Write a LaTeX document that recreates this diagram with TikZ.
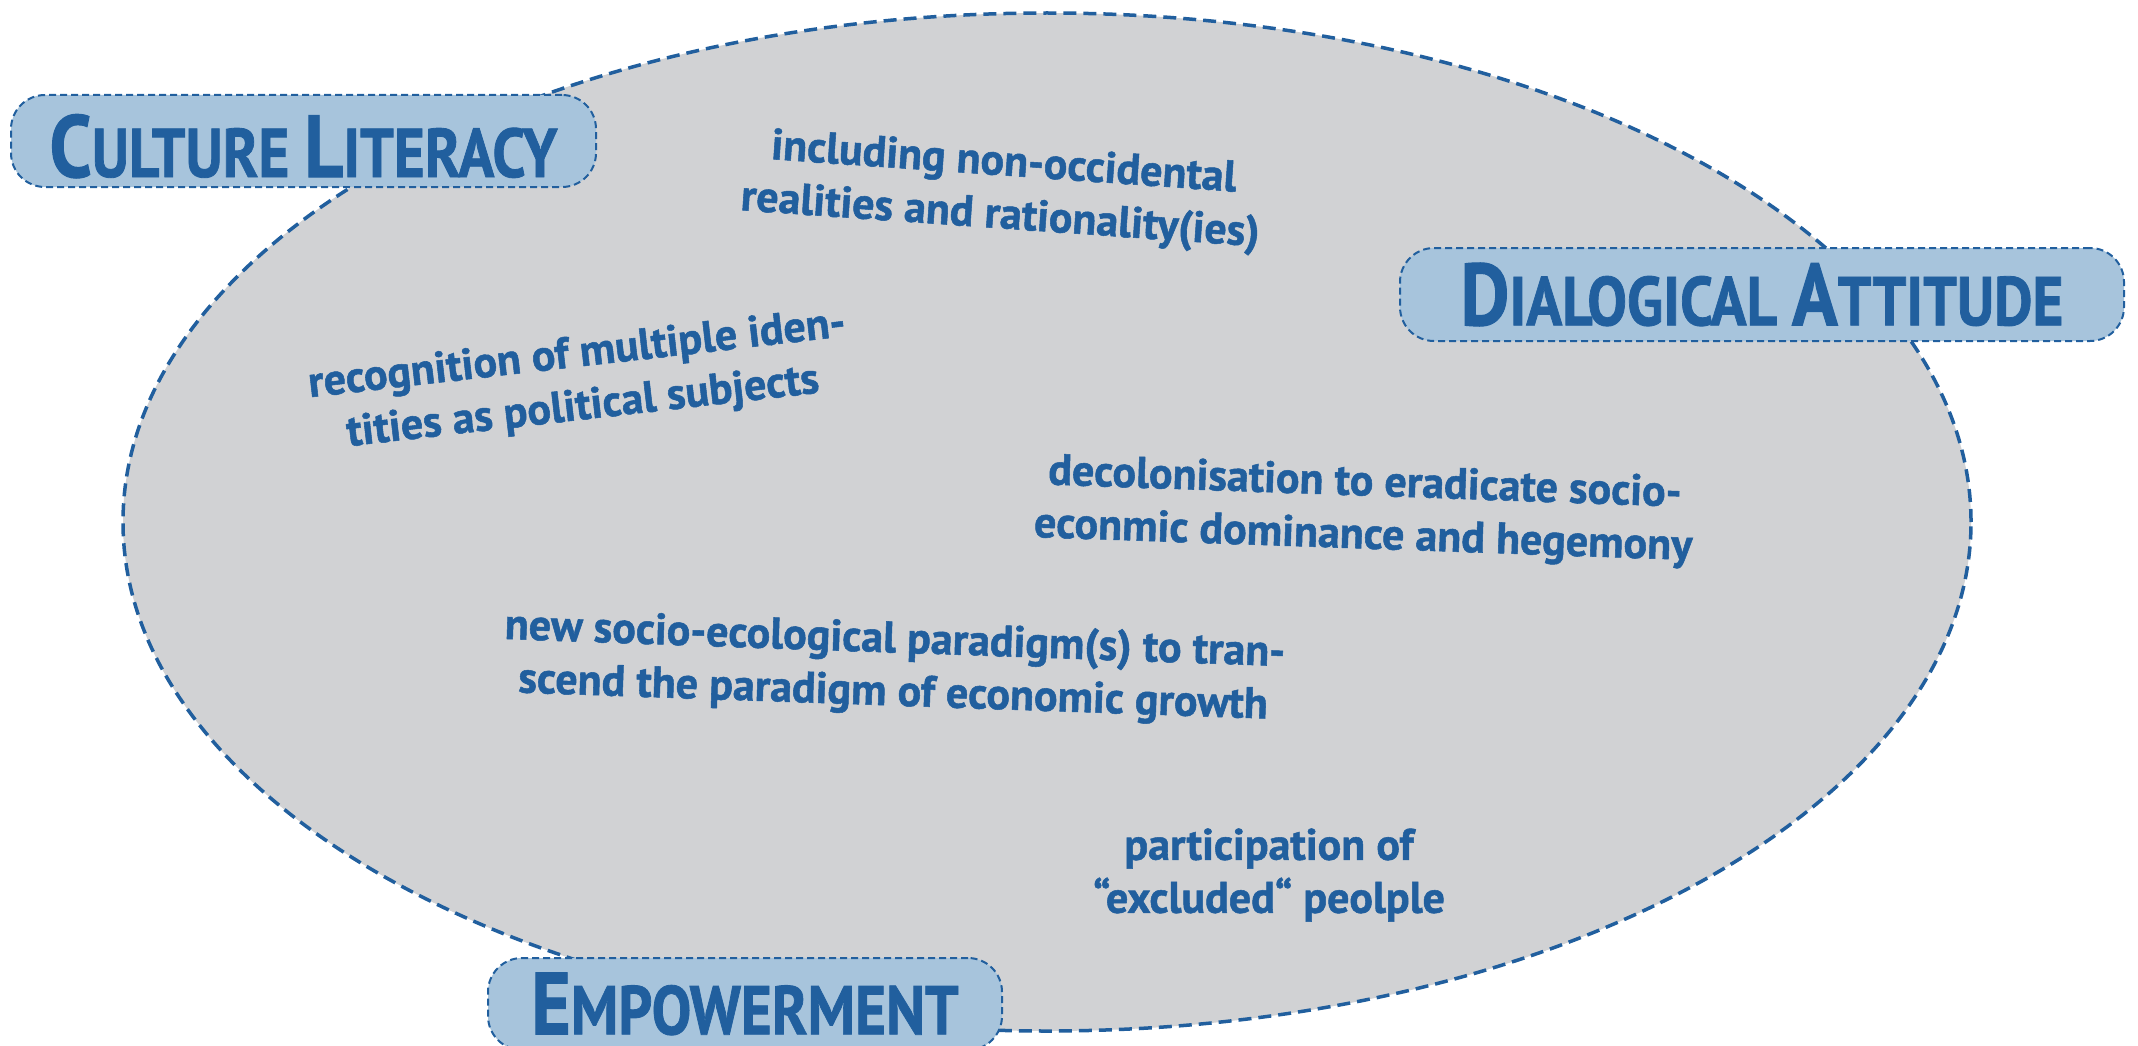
\documentclass[tikz,border=0pt]{standalone}
\usepackage{fontspec}
\usepackage{graphicx}
\setmainfont{PT Sans}[BoldFeatures={FakeBold=1.2}]
\usetikzlibrary{shapes.geometric}

\definecolor{inkblue}{HTML}{215F9E}
\definecolor{boxblue}{HTML}{A7C4DC}
\definecolor{blobgray}{HTML}{D1D2D4}

% small-caps style titles: large initials, smaller capitals, slightly condensed
\newcommand{\Ini}[1]{{\fontsize{88}{88}\selectfont #1}}
\newcommand{\Rest}[1]{{\fontsize{69}{69}\selectfont #1}}
\newcommand{\Title}[1]{\scalebox{0.86}[1]{\fontsize{69}{69}\selectfont\bfseries #1}}

\tikzset{
  blob/.style={fill=blobgray, draw=inkblue, line width=3.5pt,
    dash pattern=on 13pt off 7pt},
  titlebox/.style={fill=boxblue, draw=inkblue, line width=2pt,
    dash pattern=on 7pt off 4pt, rounded corners=34pt,
    inner sep=0pt, text=inkblue},
  idea/.style={text=inkblue, align=center, inner sep=0pt,
    font=\bfseries\fontsize{44}{53}\selectfont}
}

\begin{document}
\begin{tikzpicture}[x=1pt, y=-1pt]
\useasboundingbox (0,0) rectangle (2138,1046);

% the shared field
\path[blob] (1047,522) ellipse [x radius=924pt, y radius=509pt];

% the three competences
\node[titlebox, minimum width=585pt, minimum height=92pt,
      text height=72pt, text depth=0pt] (culture) at (303.5,141)
  {\Title{\Ini{C}\Rest{ULTURE} \Ini{L}\Rest{ITERACY}}};
\node[titlebox, minimum width=724pt, minimum height=93pt] (dialog) at (1762,294.5)
  {\Title{\Ini{D}\Rest{IALOGICAL} \Ini{A}\Rest{TTITUDE}}};
\node[titlebox, minimum width=514pt, minimum height=92pt] (empower) at (745,1004)
  {\Title{\Ini{E}\Rest{MPOWERMENT}}};

% the ideas inside the field
\node[idea, rotate=-4] (real) at (1002,191)
  {including non-occidental\\realities and rationality(ies)};
\node[idea, rotate=6.5] (ident) at (580,382)
  {recognition of multiple iden-\\tities as political subjects};
\node[idea, rotate=-2] (decol) at (1364,511)
  {decolonisation to eradicate socio-\\econmic dominance and hegemony};
\node[idea, rotate=-2] (paradigm) at (894,668)
  {new socio-ecological paradigm(s) to tran-\\scend the paradigm of economic growth};
\node[idea] (particip) at (1269,875)
  {participation of\\“excluded“ peolple};
\end{tikzpicture}
\end{document}
